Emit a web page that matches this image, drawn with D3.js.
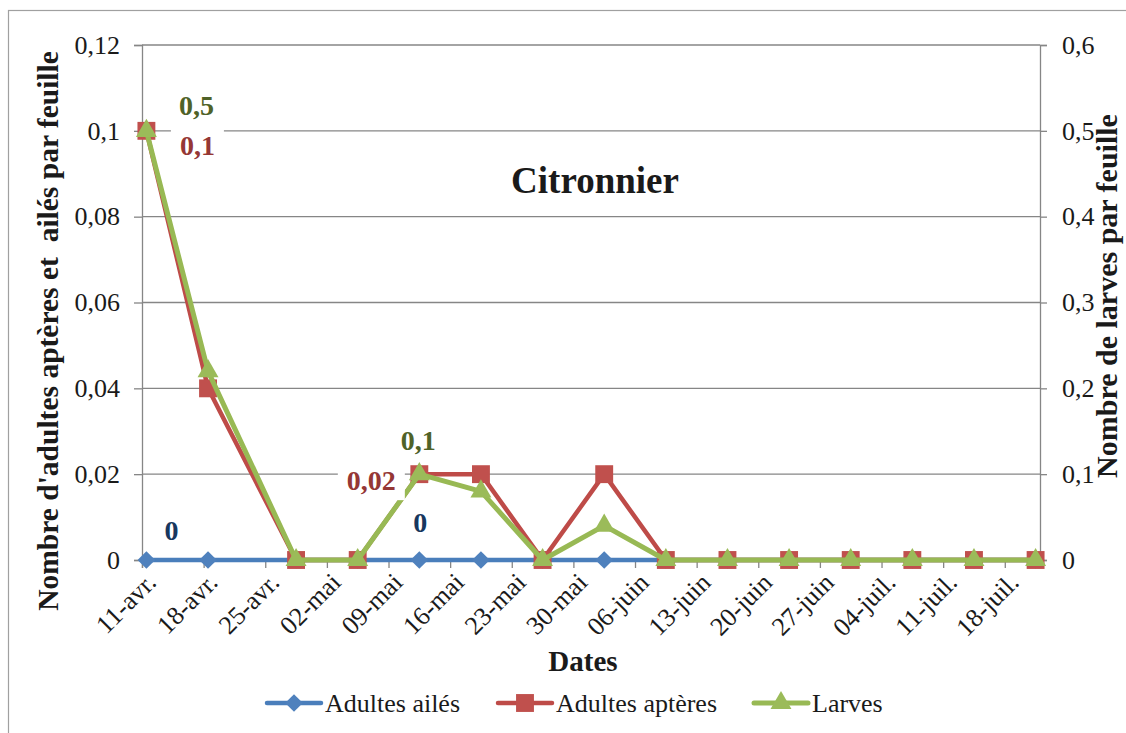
<!DOCTYPE html>
<html>
<head>
<meta charset="utf-8">
<script src="https://cdn.jsdelivr.net/npm/d3@7"></script>
<style>
  html, body { margin: 0; padding: 0; background: #fff; }
  svg { display: block; }
  svg text { font-family: "Liberation Serif", "Times New Roman", Times, serif !important; }
</style>
</head>
<body>
<svg id="chart" width="1126" height="733"></svg>
<script>
// Observation dates (Citronnier survey)
const dates = ["2013-04-11","2013-04-18","2013-04-28","2013-05-05","2013-05-12","2013-05-19","2013-05-26",
               "2013-06-02","2013-06-09","2013-06-16","2013-06-23","2013-06-30","2013-07-07","2013-07-14","2013-07-21"];
// Left axis series (per leaf)
const adultesAiles   = [0, 0, 0, 0, 0, 0, 0, 0, 0, 0, 0, 0, 0, 0, 0];
const adultesApteres = [0.1, 0.04, 0, 0, 0.02, 0.02, 0, 0.02, 0, 0, 0, 0, 0, 0, 0];
// Right axis series (per leaf)
const larves         = [0.5, 0.22, 0, 0, 0.1, 0.08, 0, 0.04, 0, 0, 0, 0, 0, 0, 0];

const seriesNames = ["Adultes ailés", "Adultes aptères", "Larves"];
const xTickLabels = ["11-avr.","18-avr.","25-avr.","02-mai","09-mai","16-mai","23-mai","30-mai",
                     "06-juin","13-juin","20-juin","27-juin","04-juil.","11-juil.","18-juil."];
const leftTicks  = [0, 0.02, 0.04, 0.06, 0.08, 0.1, 0.12];
const rightTicks = [0, 0.1, 0.2, 0.3, 0.4, 0.5, 0.6];
// Points carrying a value label (index into each series)
const labelledAiles   = [0, 4];
const labelledApteres = [0, 4];
const labelledLarves  = [0, 4];

const parse = d3.utcParse("%Y-%m-%d");
const day = 864e5;
const fmt = v => String(v).replace(".", ",");

const svg = d3.select("#chart");
const plot = { left: 142, right: 1040, top: 45, bottom: 560 };

const x = d3.scaleUtc()
  .domain([parse("2013-04-11"), parse("2013-07-22")])
  .range([plot.left, plot.right]);
const yL = d3.scaleLinear().domain([0, 0.12]).range([plot.bottom, plot.top]);
const yR = d3.scaleLinear().domain([0, 0.6]).range([plot.bottom, plot.top]);

// points sit in the middle of their day slot
const xPos = d => x(new Date(parse(d).getTime() + day / 2));

const axisColor = "#868686";
const textColor = "#1a1a1a";

// chart frame
svg.append("rect").attr("x", 8.5).attr("y", 10.5).attr("width", 1140).attr("height", 740)
  .attr("fill", "#fff").attr("stroke", "#a0a0a0").attr("stroke-width", 1.2);

// horizontal gridlines
svg.append("g")
  .selectAll("line").data(leftTicks.filter(t => t > 0)).join("line")
  .attr("x1", plot.left).attr("x2", plot.right)
  .attr("y1", d => yL(d)).attr("y2", d => yL(d))
  .attr("stroke", axisColor).attr("stroke-width", 1.3);

// left axis
const gL = svg.append("g").attr("transform", `translate(${plot.left},0)`)
  .call(d3.axisLeft(yL).tickValues(leftTicks).tickFormat(fmt).tickSize(8).tickPadding(14));
// right axis
const gR = svg.append("g").attr("transform", `translate(${plot.right},0)`)
  .call(d3.axisRight(yR).tickValues(rightTicks).tickFormat(fmt).tickSize(7).tickPadding(15));
[gL, gR].forEach(g => {
  g.attr("font-family", null);
  g.select(".domain").attr("stroke", axisColor).attr("stroke-width", 1.3);
  g.selectAll(".tick line").attr("stroke", axisColor).attr("stroke-width", 1.3);
  g.selectAll(".tick text").attr("font-size", 26).attr("fill", textColor);
});

// bottom (date) axis with weekly ticks
const tickDates = xTickLabels.map((_, i) => new Date(parse("2013-04-11").getTime() + i * 7 * day));
const gX = svg.append("g").attr("transform", `translate(0,${plot.bottom})`)
  .call(d3.axisBottom(x).tickValues(tickDates).tickSize(8).tickFormat((d, i) => xTickLabels[i]));
gX.attr("font-family", null);
gX.select(".domain").attr("stroke", axisColor).attr("stroke-width", 1.3);
gX.selectAll(".tick line").attr("stroke", axisColor).attr("stroke-width", 1.3);
gX.selectAll(".tick text")
  .attr("font-size", 26).attr("fill", textColor)
  .attr("text-anchor", "end")
  .attr("dy", null).attr("y", 0)
  .attr("transform", "translate(15,24) rotate(-45)");

// axis titles
svg.append("text").attr("x", 583).attr("y", 671).attr("text-anchor", "middle")
  .attr("font-size", 29).attr("font-weight", "bold").attr("fill", textColor).text("Dates");
svg.append("text").attr("transform", "translate(58,331) rotate(-90)").attr("text-anchor", "middle")
  .attr("font-size", 29.5).attr("font-weight", "bold").attr("fill", textColor)
  .attr("xml:space", "preserve")
  .text("Nombre d'adultes aptères et  ailés par feuille");
svg.append("text").attr("transform", "translate(1117,296) rotate(-90)").attr("text-anchor", "middle")
  .attr("font-size", 30).attr("font-weight", "bold").attr("fill", textColor)
  .text("Nombre de larves par feuille");

// chart title
svg.append("text").attr("x", 595).attr("y", 193).attr("text-anchor", "middle")
  .attr("font-size", 37).attr("font-weight", "bold").attr("fill", textColor).text("Citronnier");

// series definitions
const series = [
  { name: seriesNames[0], values: adultesAiles, y: yL, line: "#4A7EBB", fill: "#4F81BD", width: 4.5,
    symbol: d3.symbolDiamond2, size: 200, labelColor: "#17375E", labelled: labelledAiles,
    offsets: [[25, -20], [1, -28]] },
  { name: seriesNames[1], values: adultesApteres, y: yL, line: "#BE4B48", fill: "#C0504D", width: 4.5,
    symbol: d3.symbolSquare, size: 320, labelColor: "#953735", labelled: labelledApteres,
    offsets: [[51, 24], [-48, 16]] },
  { name: seriesNames[2], values: larves, y: yR, line: "#98B954", fill: "#9BBB59", width: 5,
    symbol: d3.symbolTriangle, size: 190, labelColor: "#4F6228", labelled: labelledLarves,
    offsets: [[50, -16], [-1, -24]] }
];

series.forEach(s => {
  const pts = dates.map((d, i) => [xPos(d), s.y(s.values[i])]);
  const g = svg.append("g");
  g.append("path").attr("d", d3.line()(pts))
    .attr("fill", "none").attr("stroke", s.line).attr("stroke-width", s.width)
    .attr("stroke-linejoin", "round").attr("stroke-linecap", "round");
  g.selectAll("path.m").data(pts).join("path").attr("class", "m")
    .attr("transform", p => `translate(${p[0]},${p[1]})`)
    .attr("d", d3.symbol(s.symbol, s.size)())
    .attr("fill", s.fill);
});

// value labels on white boxes
series.forEach(s => {
  s.labelled.forEach((i, k) => {
    const px = xPos(dates[i]) + s.offsets[k][0];
    const py = s.y(s.values[i]) + s.offsets[k][1];
    const g = svg.append("g");
    const t = g.append("text").attr("x", px).attr("y", py).attr("text-anchor", "middle")
      .attr("font-size", 28).attr("font-weight", "bold").attr("fill", s.labelColor)
      .text(fmt(s.values[i]));
    const bb = t.node().getBBox();
    g.insert("rect", "text").attr("x", bb.x - 9).attr("y", bb.y - 4)
      .attr("width", bb.width + 18).attr("height", bb.height + 8).attr("fill", "#fff");
  });
});

// legend
const legend = svg.append("g");
const legendItems = [
  { x0: 267, tx: 325 }, { x0: 498, tx: 556 }, { x0: 754, tx: 812 }
];
series.forEach((s, i) => {
  const li = legendItems[i];
  legend.append("line").attr("x1", li.x0).attr("x2", li.x0 + 54).attr("y1", 703).attr("y2", 703)
    .attr("stroke", s.line).attr("stroke-width", s.width).attr("stroke-linecap", "round");
  legend.append("path").attr("transform", `translate(${li.x0 + 27},703)`)
    .attr("d", d3.symbol(s.symbol, s.size)()).attr("fill", s.fill);
  legend.append("text").attr("x", li.tx).attr("y", 712).attr("font-size", 26).attr("fill", textColor)
    .text(s.name);
});
</script>
</body>
</html>
